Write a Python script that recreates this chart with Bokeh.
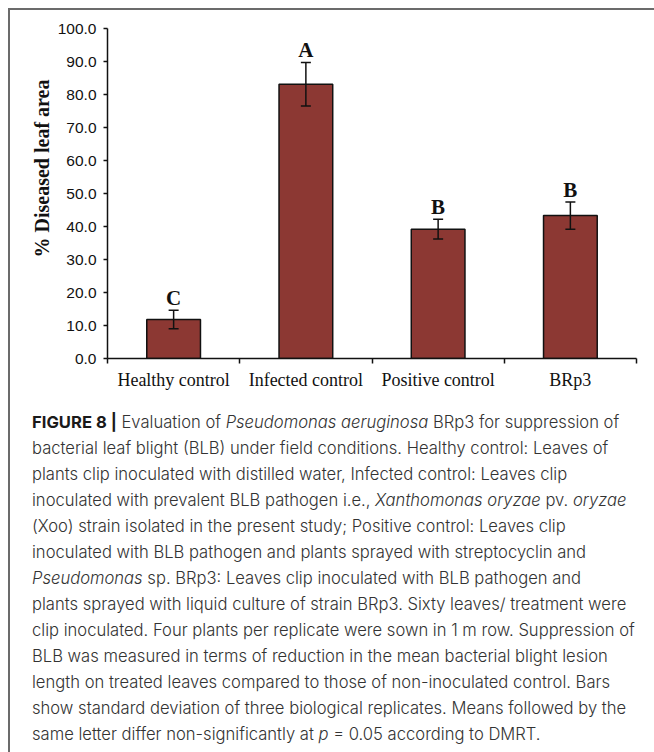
from bokeh.plotting import figure
from bokeh.models import (ColumnDataSource, Range1d, FixedTicker, PrintfTickFormatter,
                          Whisker, TeeHead, LabelSet, Div)
from bokeh.layouts import column
from bokeh.core.properties import value
from bokeh.embed import file_html
from bokeh.resources import INLINE

# ---- data ----
categories = ["Healthy control", "Infected control", "Positive control", "BRp3"]
means = [11.8, 83.1, 39.2, 43.3]
sds = [2.8, 6.6, 3.0, 4.1]
letters = ["C", "A", "B", "B"]
y_ticks = [0, 10, 20, 30, 40, 50, 60, 70, 80, 90, 100]
y_label = "% Diseased leaf area"

caption_lines = [
    "<b style='font-weight:700;color:#1a1a1a'>FIGURE 8 |</b> Evaluation of <i>Pseudomonas aeruginosa</i> BRp3 for suppression of",
    "bacterial leaf blight (BLB) under field conditions. Healthy control: Leaves of",
    "plants clip inoculated with distilled water, Infected control: Leaves clip",
    "inoculated with prevalent BLB pathogen i.e., <i>Xanthomonas oryzae</i> pv. <i>oryzae</i>",
    "(Xoo) strain isolated in the present study; Positive control: Leaves clip",
    "inoculated with BLB pathogen and plants sprayed with streptocyclin and",
    "<i>Pseudomonas</i> sp. BRp3: Leaves clip inoculated with BLB pathogen and",
    "plants sprayed with liquid culture of strain BRp3. Sixty leaves/ treatment were",
    "clip inoculated. Four plants per replicate were sown in 1 m row. Suppression of",
    "BLB was measured in terms of reduction in the mean bacterial blight lesion",
    "length on treated leaves compared to those of non-inoculated control. Bars",
    "show standard deviation of three biological replicates. Means followed by the",
    "same letter differ non-significantly at <i>p</i> = 0.05 according to DMRT.",
]

# ---- derived ----
n = len(categories)
centers = [i + 0.5 for i in range(n)]
bounds = [float(i) for i in range(n + 1)]
src = ColumnDataSource(dict(
    x=centers, top=means,
    upper=[m + s for m, s in zip(means, sds)],
    lower=[m - s for m, s in zip(means, sds)],
    letter=letters,
))

p = figure(width=636, height=390, x_range=Range1d(0, n), y_range=Range1d(0, 100),
           output_backend="svg", toolbar_location=None,
           title=y_label, title_location="left",
           min_border_left=97, min_border_right=10, min_border_top=18, min_border_bottom=42)
p.outline_line_color = None
p.xgrid.grid_line_color = None
p.ygrid.grid_line_color = None
p.background_fill_color = "white"
p.border_fill_color = "white"

# y-axis title (drawn as the plot's left-side title so it can sit above the frame middle)
p.title.align = "left"
p.title.offset = 101
p.title.text_font = "Liberation Serif"
p.title.text_font_style = "bold"
p.title.text_font_size = "20px"
p.title.text_color = "#111111"
p.title.standoff = 4

p.vbar(x="x", top="top", bottom=0, width=0.406, source=src,
       fill_color="#8C3833", line_color="#111111", line_width=1.5)

err = Whisker(base="x", upper="upper", lower="lower", source=src,
              line_color="#111111", line_width=1.5, level="annotation",
              upper_head=TeeHead(size=10, line_color="#111111", line_width=1.5),
              lower_head=TeeHead(size=10, line_color="#111111", line_width=1.5))
p.add_layout(err)

lab = LabelSet(x="x", y="upper", text="letter", source=src, y_offset=5,
               text_align="center", text_baseline="alphabetic",
               text_font=value("Liberation Serif"), text_font_style="bold",
               text_font_size="21px", text_color="#111111")
p.add_layout(lab)

# x axis: labels at centers, ticks at category boundaries
xa = p.xaxis[0]
xa.ticker = FixedTicker(ticks=centers, minor_ticks=bounds)
xa.major_label_overrides = {c: name for c, name in zip(centers, categories)}
xa.major_tick_line_color = None
xa.minor_tick_line_color = "#111111"
xa.minor_tick_line_width = 1.5
xa.minor_tick_in = 0
xa.minor_tick_out = 5
xa.axis_line_color = "#111111"
xa.axis_line_width = 1.5
xa.major_label_text_font = "Liberation Serif"
xa.major_label_text_font_size = "18px"
xa.major_label_text_color = "#111111"
xa.major_label_standoff = 5

ya = p.yaxis[0]
ya.ticker = FixedTicker(ticks=y_ticks)
ya.formatter = PrintfTickFormatter(format="%.1f")
ya.minor_tick_line_color = None
ya.major_tick_line_color = "#111111"
ya.major_tick_line_width = 1.5
ya.major_tick_in = 0
ya.major_tick_out = 4
ya.axis_line_color = "#111111"
ya.axis_line_width = 1.5
ya.major_label_text_font = "Liberation Sans"
ya.major_label_text_font_size = "15.5px"
ya.major_label_text_color = "#111111"
ya.major_label_standoff = 7

cap_html = ("<div style=\"font-family:Inter,'Liberation Sans',sans-serif;font-weight:300;"
            "font-size:16.6px;line-height:26px;color:#333333;white-space:nowrap;"
            "padding:4px 0 0 17px;\">" + "<br>".join(caption_lines) + "</div>")
cap = Div(text=cap_html, width=642, height=342)

layout = column(p, cap, spacing=0, margin=(8, 0, 0, 8),
                styles={"border-top": "2px solid #6b6b6b", "border-left": "2px solid #6b6b6b",
                        "background-color": "white"})

open("out.html", "w").write(file_html(layout, INLINE))
